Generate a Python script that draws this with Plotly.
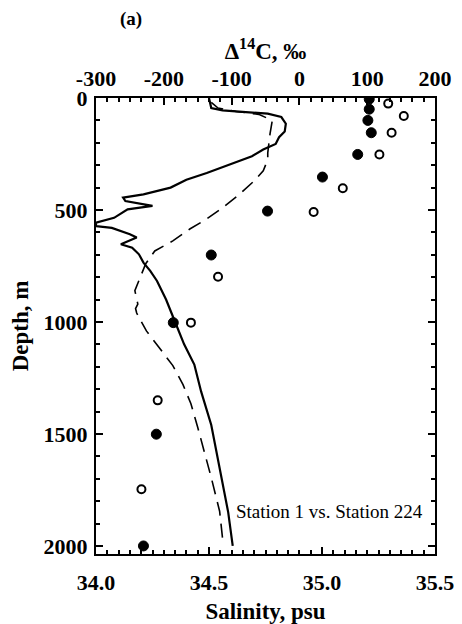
import plotly.graph_objects as go

# Salinity profiles (depth m, salinity psu)
sol_depth = [0, 20, 45, 55, 62, 70, 85, 115, 150, 175, 205, 230, 260, 290, 315, 335, 365, 400,
             430, 445, 460, 482, 497, 515, 535, 557, 572, 580, 608, 623, 653, 668, 698, 735, 772,
             817, 900, 1000, 1100, 1190, 1310, 1460, 1590, 1710, 1850, 2000]
sol_sal = [34.50, 34.505, 34.51, 34.56, 34.64, 34.76, 34.82, 34.84, 34.835, 34.81, 34.795, 34.74,
           34.69, 34.61, 34.55, 34.49, 34.40, 34.33, 34.21, 34.12, 34.13, 34.25, 34.14, 34.11,
           34.08, 34.00, 34.00, 34.07, 34.15, 34.18, 34.11, 34.16, 34.19, 34.21, 34.24, 34.27,
           34.31, 34.35, 34.39, 34.435, 34.465, 34.51, 34.535, 34.56, 34.585, 34.605]

dash_depth = [20, 45, 60, 73, 100, 160, 245, 275, 325, 370, 430, 490, 540, 585, 638, 683, 740,
              800, 860, 920, 940, 960, 1040, 1115, 1195, 1280, 1365, 1470, 1560, 1695, 1845, 1985]
dash_sal = [34.51, 34.54, 34.62, 34.72, 34.78, 34.77, 34.76, 34.76, 34.74, 34.70, 34.635, 34.56,
            34.49, 34.415, 34.34, 34.26, 34.22, 34.195, 34.172, 34.185, 34.175, 34.18, 34.223,
            34.28, 34.34, 34.385, 34.42, 34.45, 34.475, 34.51, 34.547, 34.562]

# Delta 14C samples (depth m, permil)
fill_depth = [5, 50, 100, 155, 252, 353, 505, 701, 1003, 1501, 2000]
fill_c14 = [103, 103, 101, 106, 86, 34, -47, -130, -186, -211, -230]
open_depth = [25, 80, 155, 252, 403, 509, 798, 1003, 1350, 1747]
open_c14 = [131, 154, 136, 118, 64, 21, -120, -160, -209, -233]

FONT = "Liberation Serif"

# page has an 8px body margin: figure drawn at (8, 8)
OFF = 8
W, H = 462 - OFF, 624 - OFF
# plot-area pixel box in page coordinates
PL, PR, PT, PB = 96, 435, 98, 554


def px_to_paper(px, py):
    return (px - PL) / (PR - PL), (PB - py) / (PB - PT)


fig = go.Figure()
fig.add_trace(go.Scatter(x=sol_sal, y=sol_depth, mode="lines",
                         line=dict(color="black", width=2.2), showlegend=False))
fig.add_trace(go.Scatter(x=dash_sal, y=dash_depth, mode="lines",
                         line=dict(color="black", width=1.6, dash="14px,8px"), showlegend=False))
fig.add_trace(go.Scatter(x=fill_c14, y=fill_depth, mode="markers", xaxis="x2",
                         marker=dict(color="black", size=10, line=dict(color="black", width=1)),
                         showlegend=False))
fig.add_trace(go.Scatter(x=open_c14, y=open_depth, mode="markers", xaxis="x2",
                         marker=dict(color="white", size=8, line=dict(color="black", width=2)),
                         showlegend=False))

tickfont = dict(family=FONT, size=22, color="black", weight="bold")
titlefont = dict(family=FONT, size=23, color="black", weight="bold")

ax_common = dict(showgrid=False, zeroline=False, showline=True, linecolor="black", linewidth=2,
                 ticks="inside", ticklen=7, tickwidth=1.5, tickcolor="black",
                 tickfont=tickfont, automargin=False)

fig.update_layout(
    width=W, height=H,
    margin=dict(l=PL - OFF, r=462 - PR, t=PT - OFF, b=624 - PB),
    paper_bgcolor="white", plot_bgcolor="white",
    xaxis=dict(range=[34.0, 35.5], tickvals=[34.0, 34.5, 35.0, 35.5],
               ticktext=["34.0", "34.5", "35.0", "35.5"],
               minor=dict(dtick=0.05, tick0=34.0, ticks="inside", ticklen=4, tickwidth=1.5,
                          tickcolor="black", showgrid=False),
               ticklabelstandoff=8,
               title=dict(text="Salinity, psu", font=titlefont, standoff=8),
               **ax_common),
    xaxis2=dict(range=[-300, 200], overlaying="x", side="top",
                tickvals=[-300, -200, -100, 0, 100, 200],
                ticktext=["-300", "-200", "-100", "0", "100", "200"],
                minor=dict(dtick=100 / 6, tick0=-300, ticks="inside", ticklen=4, tickwidth=1.5,
                           tickcolor="black", showgrid=False),
                ticklabelstandoff=1,
                title=dict(text="Δ<sup>14</sup>C, ‰", font=titlefont, standoff=0),
                **ax_common),
    yaxis=dict(range=[2036, 0], tickvals=[0, 500, 1000, 1500, 2000],
               ticktext=["0", "500", "1000", "1500", "2000"],
               mirror="ticks",
               minor=dict(dtick=100, tick0=0, ticks="inside", ticklen=4, tickwidth=1.5,
                          tickcolor="black", showgrid=False),
               ticklabelstandoff=2,
               title=dict(text="Depth, m", font=titlefont, standoff=14),
               **ax_common),
)

ax_, ay_ = px_to_paper(131, 19)
sx_, sy_ = px_to_paper(329, 511)
fig.add_annotation(text="(a)", x=ax_, y=ay_, xref="paper", yref="paper", showarrow=False,
                   xanchor="center", yanchor="middle",
                   font=dict(family=FONT, size=19, color="black", weight="bold"))
fig.add_annotation(text="Station 1 vs. Station 224", x=sx_, y=sy_, xref="paper", yref="paper",
                   showarrow=False, xanchor="center", yanchor="middle",
                   font=dict(family=FONT, size=19, color="black"))

fig.write_html("out.html")
